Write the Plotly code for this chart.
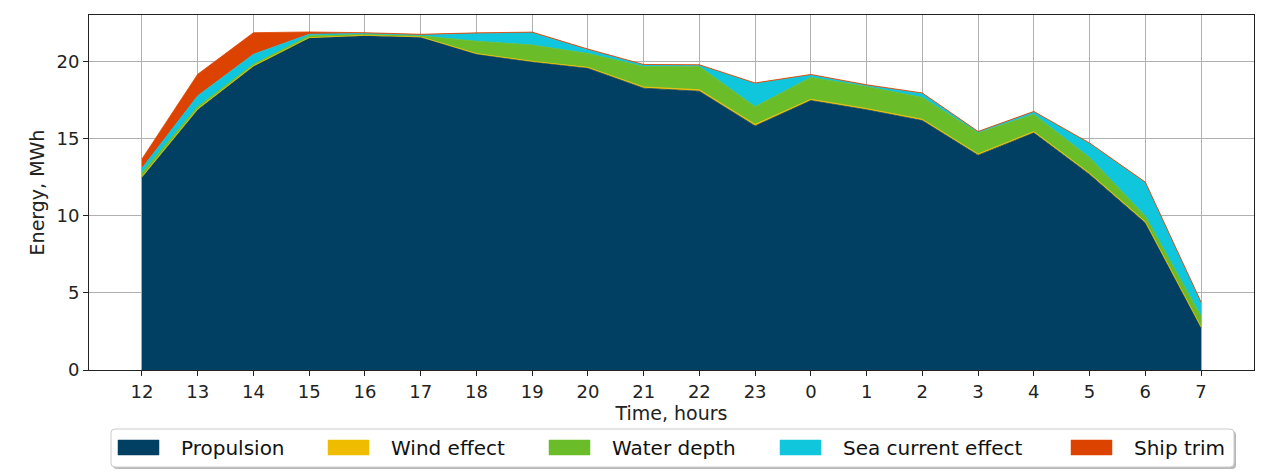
import plotly.graph_objects as go

hours = ["12", "13", "14", "15", "16", "17", "18", "19", "20", "21", "22", "23",
         "0", "1", "2", "3", "4", "5", "6", "7"]

propulsion = [12.5, 16.9, 19.7, 21.55, 21.7, 21.6, 20.5, 20.0, 19.6, 18.3, 18.1, 15.85,
              17.5, 16.9, 16.2, 13.95, 15.4, 12.7, 9.55, 2.75]
wind_effect = [0.05, 0.05, 0.05, 0.03, 0.03, 0.03, 0.05, 0.05, 0.05, 0.08, 0.1, 0.1,
               0.08, 0.08, 0.08, 0.08, 0.08, 0.08, 0.08, 0.05]
water_depth = [0.25, 0.15, 0.1, 0.12, 0.07, 0.07, 0.8, 1.05, 0.9, 1.32, 1.5, 1.15,
               1.42, 1.42, 1.42, 1.37, 1.12, 1.02, 0.37, 0.7]
sea_current = [0.3, 0.7, 0.65, 0.1, 0.05, 0.05, 0.5, 0.8, 0.25, 0.1, 0.08, 1.5,
               0.15, 0.08, 0.25, 0.05, 0.15, 0.9, 2.16, 0.87]
ship_trim = [0.6, 1.4, 1.4, 0.15, 0.05, 0.05, 0.04, 0.04, 0.04, 0.04, 0.04, 0.04,
             0.04, 0.04, 0.04, 0.04, 0.04, 0.04, 0.04, 0.04]

series_names = ["Propulsion", "Wind effect", "Water depth", "Sea current effect", "Ship trim"]
series_values = [propulsion, wind_effect, water_depth, sea_current, ship_trim]
series_colors = ["#013f63", "#f0bc00", "#6abd28", "#10c6dc", "#dd4300"]

x = list(range(len(hours)))

fig = go.Figure()
for name, vals, color in zip(series_names, series_values, series_colors):
    fig.add_trace(go.Scatter(
        x=x, y=vals, name=name, mode="lines",
        stackgroup="one", fillcolor=color,
        line=dict(color=color, width=0.8),
        showlegend=False,
    ))

# ---- plot-area geometry (pixels) used to place the legend box below the axes
PL, PR, PT, PB = 88, 1253, 14, 369
def px(v):
    return (v - PL) / (PR - PL)
def py(v):
    return (PB - v) / (PB - PT)

shapes = []
annotations = []

# legend frame (rounded) with a soft shadow
bx0, bx1, by0, by1 = 110, 1233, 428, 466
r = 4
def rounded(x0, x1, y0, y1, rad):
    return (f"M {px(x0 + rad)},{py(y0)} L {px(x1 - rad)},{py(y0)} "
            f"Q {px(x1)},{py(y0)} {px(x1)},{py(y0 + rad)} "
            f"L {px(x1)},{py(y1 - rad)} Q {px(x1)},{py(y1)} {px(x1 - rad)},{py(y1)} "
            f"L {px(x0 + rad)},{py(y1)} Q {px(x0)},{py(y1)} {px(x0)},{py(y1 - rad)} "
            f"L {px(x0)},{py(y0 + rad)} Q {px(x0)},{py(y0)} {px(x0 + rad)},{py(y0)} Z")
shapes.append(dict(type="path", xref="paper", yref="paper",
                   path=rounded(bx0 + 2, bx1 + 2, by0 + 2, by1 + 2, r),
                   fillcolor="rgba(0,0,0,0.28)", line=dict(width=0)))
shapes.append(dict(type="path", xref="paper", yref="paper",
                   path=rounded(bx0, bx1, by0, by1, r),
                   fillcolor="white", line=dict(color="#cccccc", width=1)))

swatch_left = [117, 327, 548, 779, 1070]
swatch_w, sw_y0, sw_y1 = 41, 439, 454
text_gap = 20
for name, color, sx in zip(series_names, series_colors, swatch_left):
    shapes.append(dict(type="rect", xref="paper", yref="paper",
                       x0=px(sx), x1=px(sx + swatch_w), y0=py(sw_y1), y1=py(sw_y0),
                       fillcolor=color, line=dict(color=color, width=0.5)))
    annotations.append(dict(xref="paper", yref="paper",
                            x=px(sx + swatch_w + text_gap), y=py((sw_y0 + sw_y1) / 2),
                            xanchor="left", yanchor="middle", showarrow=False,
                            text=name, font=dict(family="DejaVu Sans", size=20, color="#111")))

font = "DejaVu Sans"
fig.update_layout(
    width=1280, height=474,
    margin=dict(l=81, r=34, t=7, b=112),
    paper_bgcolor="white", plot_bgcolor="white",
    font=dict(family=font, size=18, color="#222"),
    showlegend=False,
    shapes=shapes,
    annotations=annotations,
    xaxis=dict(
        tickmode="array", tickvals=x, ticktext=hours,
        range=[-0.95, len(hours) - 1 + 0.95],
        showgrid=True, gridcolor="#b0b0b0", gridwidth=1,
        showline=True, linecolor="#222", linewidth=1, mirror=True,
        ticks="outside", ticklen=5, tickcolor="#222",
        tickfont=dict(size=18),
        title=dict(text="Time, hours", font=dict(size=19), standoff=6),
        zeroline=False, automargin=False,
    ),
    yaxis=dict(
        range=[0, 23.05],
        tickvals=[0, 5, 10, 15, 20],
        showgrid=True, gridcolor="#b0b0b0", gridwidth=1,
        showline=True, linecolor="#222", linewidth=1, mirror=True,
        ticks="outside", ticklen=5, tickcolor="#222",
        tickfont=dict(size=18),
        title=dict(text="Energy, MWh", font=dict(size=19), standoff=6),
        zeroline=False, automargin=False,
    ),
)

fig.write_html("out.html")
